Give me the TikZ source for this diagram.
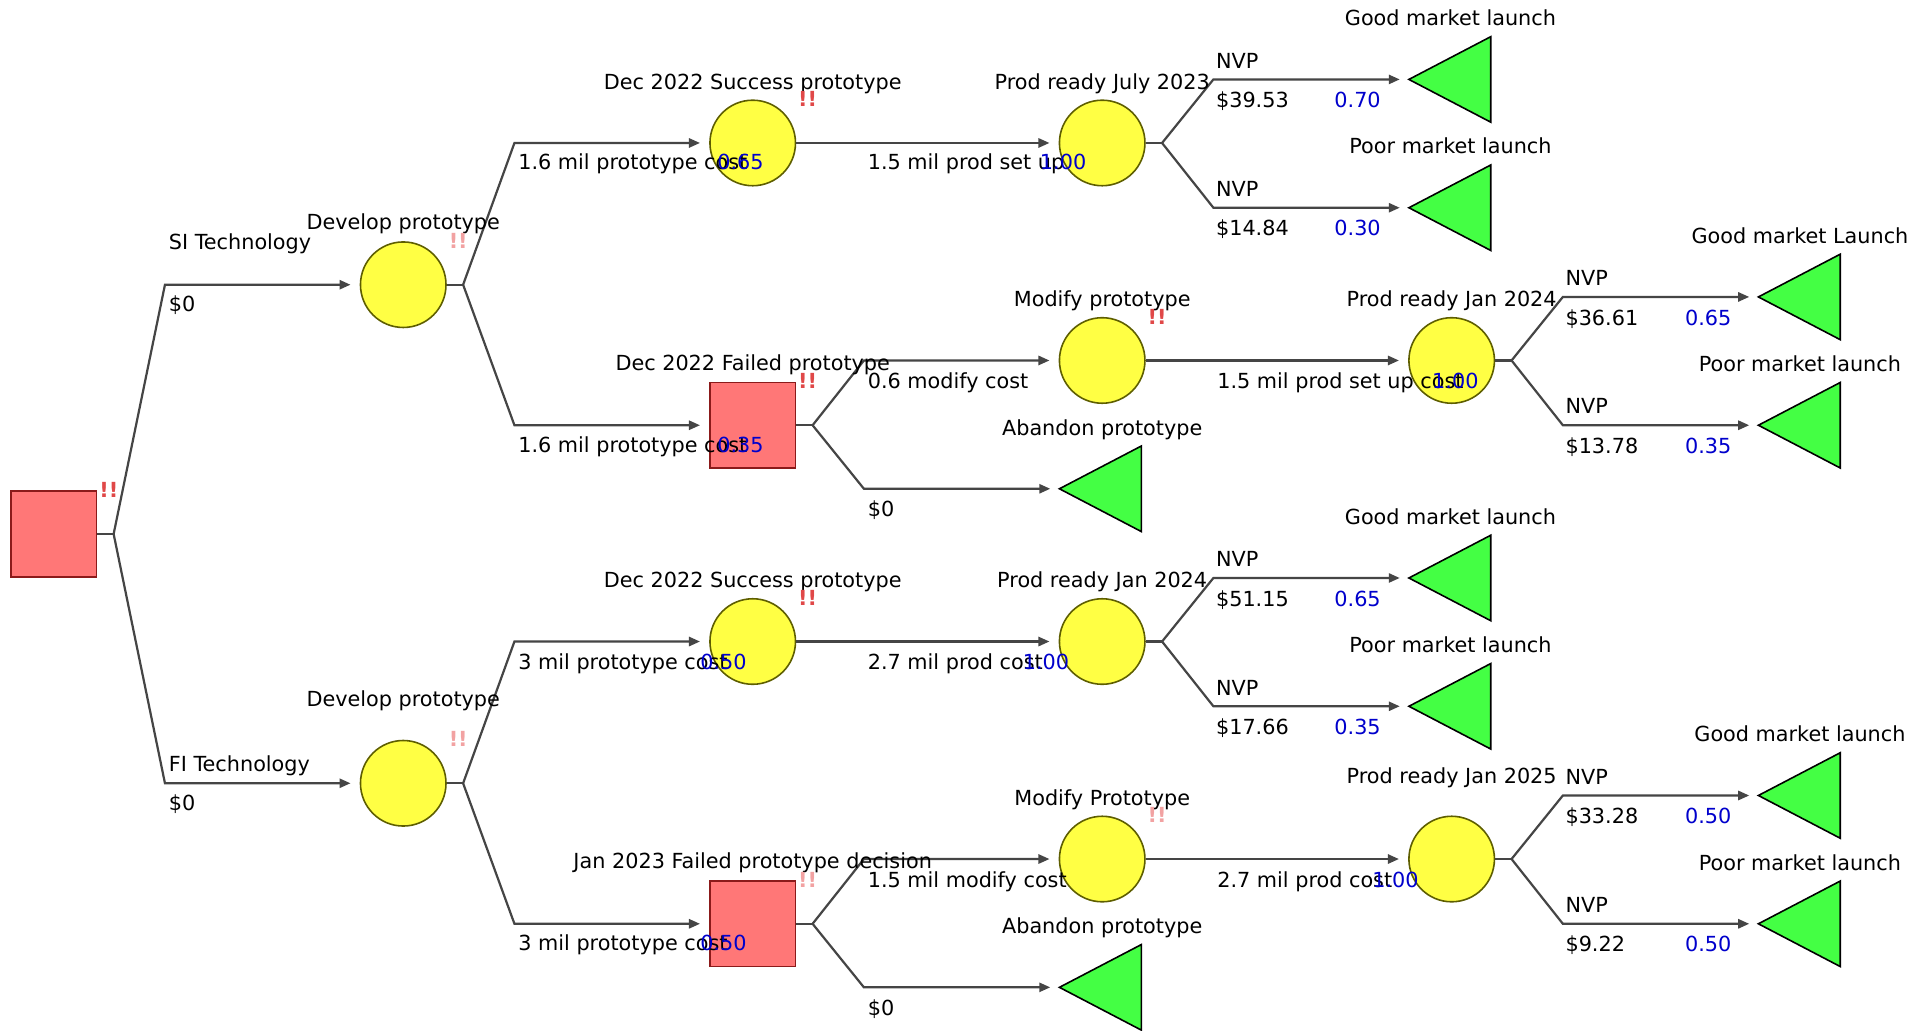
\documentclass[tikz,border=0pt]{standalone}
\usepackage{fontspec}
\setmainfont{DejaVu Sans}
\usetikzlibrary{arrows.meta}
\definecolor{decfill}{HTML}{FF7777}
\definecolor{decdraw}{HTML}{8B1A1A}
\definecolor{chfill}{HTML}{FFFF44}
\definecolor{chdraw}{HTML}{5E5E00}
\definecolor{tfill}{HTML}{44FF44}
\definecolor{lin}{HTML}{454545}
\definecolor{prob}{HTML}{0000CC}
\definecolor{bangred}{HTML}{E04848}
\definecolor{bangpink}{HTML}{F2A2A2}
\tikzset{
  decnode/.style={rectangle, fill=decfill, draw=decdraw, line width=1.3pt, minimum size=70pt, inner sep=0pt},
  chnode/.style={circle, fill=chfill, draw=chdraw, line width=1.3pt, minimum size=70pt, inner sep=0pt},
  tshape/.style={fill=tfill, draw=black, line width=1.3pt, line join=miter},
  conn/.style={draw=lin, line width=1.8pt, -{Triangle[length=9pt,width=7.5pt]}, shorten >=7.5pt},
  stub/.style={draw=lin, line width=1.8pt},
  lbl/.style={font=\fontsize{17}{20}\selectfont, inner sep=0pt, anchor=base west, yshift=-6pt},
  ttl/.style={font=\fontsize{17}{20}\selectfont, inner sep=0pt, anchor=base, yshift=-6pt},
  pr/.style={ttl, text=prob},
  bang/.style={font=\fontsize{17}{20}\selectfont\bfseries, inner sep=0pt, text=bangred},
  bangl/.style={bang, text=bangpink}
}
\newcommand\termtri[3]{%
  \coordinate (#1) at (#2,#3);
  \draw[tshape] (#1) -- ++(67,35) -- ++(0,-70) -- cycle;}
\begin{document}
\begin{tikzpicture}[x=1pt,y=-1pt]
\fill[white] (0,0) rectangle (1568,843);
\useasboundingbox (0,0) rectangle (1568,843);

% ---------- nodes ----------
\node[decnode] (root) at (44,437) {};
\node[chnode] (d1) at (330,233) {};
\node[chnode] (c1) at (616,117) {};
\node[chnode] (c2) at (902,117) {};
\termtri{t1}{1153}{65}
\termtri{t2}{1153}{170}
\node[decnode] (s1) at (616,348) {};
\node[chnode] (m1) at (902,295) {};
\node[chnode] (p1) at (1188,295) {};
\termtri{t3}{1439}{243}
\termtri{t4}{1439}{348}
\termtri{t5}{867}{400}
\node[chnode] (d2) at (330,641) {};
\node[chnode] (c3) at (616,525) {};
\node[chnode] (c4) at (902,525) {};
\termtri{t6}{1153}{473}
\termtri{t7}{1153}{578}
\node[decnode] (s2) at (616,756) {};
\node[chnode] (m2) at (902,703) {};
\node[chnode] (p2) at (1188,703) {};
\termtri{t8}{1439}{651}
\termtri{t9}{1439}{756}
\termtri{t10}{867}{808}

% ---------- fork and bend points ----------
\coordinate (f0) at (93,437);
\coordinate (b0a) at (135,233); \coordinate (b0b) at (135,641);
\coordinate (fd1) at (379,233);
\coordinate (bd1a) at (421,117); \coordinate (bd1b) at (421,348);
\coordinate (fc2) at (951,117);
\coordinate (bc2a) at (993,65); \coordinate (bc2b) at (993,170);
\coordinate (fs1) at (665,348);
\coordinate (bs1a) at (707,295); \coordinate (bs1b) at (707,400);
\coordinate (fp1) at (1237,295);
\coordinate (bp1a) at (1279,243); \coordinate (bp1b) at (1279,348);
\coordinate (fd2) at (379,641);
\coordinate (bd2a) at (421,525); \coordinate (bd2b) at (421,756);
\coordinate (fc4) at (951,525);
\coordinate (bc4a) at (993,473); \coordinate (bc4b) at (993,578);
\coordinate (fs2) at (665,756);
\coordinate (bs2a) at (707,703); \coordinate (bs2b) at (707,808);
\coordinate (fp2) at (1237,703);
\coordinate (bp2a) at (1279,651); \coordinate (bp2b) at (1279,756);

% ---------- connectors ----------
\draw[stub] (root.east) -- (f0);
\draw[conn] (f0) -- (b0a) -- (d1);
\draw[conn] (f0) -- (b0b) -- (d2);

\draw[stub] (d1.east) -- (fd1);
\draw[conn] (fd1) -- (bd1a) -- (c1);
\draw[conn] (fd1) -- (bd1b) -- (s1);
\draw[conn] (c1) -- (c2);
\draw[stub] (c2.east) -- (fc2);
\draw[conn] (fc2) -- (bc2a) -- (t1);
\draw[conn] (fc2) -- (bc2b) -- (t2);
\draw[stub] (s1.east) -- (fs1);
\draw[conn] (fs1) -- (bs1a) -- (m1);
\draw[conn] (fs1) -- (bs1b) -- (t5);
\draw[conn] (m1) -- (p1);
\draw[stub] (p1.east) -- (fp1);
\draw[conn] (fp1) -- (bp1a) -- (t3);
\draw[conn] (fp1) -- (bp1b) -- (t4);

\draw[stub] (d2.east) -- (fd2);
\draw[conn] (fd2) -- (bd2a) -- (c3);
\draw[conn] (fd2) -- (bd2b) -- (s2);
\draw[conn] (c3) -- (c4);
\draw[stub] (c4.east) -- (fc4);
\draw[conn] (fc4) -- (bc4a) -- (t6);
\draw[conn] (fc4) -- (bc4b) -- (t7);
\draw[stub] (s2.east) -- (fs2);
\draw[conn] (fs2) -- (bs2a) -- (m2);
\draw[conn] (fs2) -- (bs2b) -- (t10);
\draw[conn] (m2) -- (p2);
\draw[stub] (p2.east) -- (fp2);
\draw[conn] (fp2) -- (bp2a) -- (t8);
\draw[conn] (fp2) -- (bp2b) -- (t9);

% ---------- node titles ----------
\node[ttl] (ld1) at (330,182) {Develop prototype};
\node[ttl] (lc1) at (616,67) {Dec 2022 Success prototype};
\node[ttl] (lc2) at (902,67) {Prod ready July 2023};
\node[ttl] (lt1) at (1187,15) {Good market launch};
\node[ttl] (lt2) at (1187,120) {Poor market launch};
\node[ttl] (ls1) at (616,297) {Dec 2022 Failed prototype};
\node[ttl] (lm1) at (902,245) {Modify prototype};
\node[ttl] (lp1) at (1188,245) {Prod ready Jan 2024};
\node[ttl] (lt3) at (1473,193) {Good market Launch};
\node[ttl] (lt4) at (1473,298) {Poor market launch};
\node[ttl] (lt5) at (902,350) {Abandon prototype};
\node[ttl] (ld2) at (330,572) {Develop prototype};
\node[ttl] (lc3) at (616,475) {Dec 2022 Success prototype};
\node[ttl] (lc4) at (902,475) {Prod ready Jan 2024};
\node[ttl] (lt6) at (1187,423) {Good market launch};
\node[ttl] (lt7) at (1187,528) {Poor market launch};
\node[ttl] (ls2) at (616,705) {Jan 2023 Failed prototype decision};
\node[ttl] (lm2) at (902,653) {Modify Prototype};
\node[ttl] (lp2) at (1188,635) {Prod ready Jan 2025};
\node[ttl] (lt8) at (1473,601) {Good market launch};
\node[ttl] (lt9) at (1473,706) {Poor market launch};
\node[ttl] (lt10) at (902,758) {Abandon prototype};

% ---------- edge labels ----------
\node[lbl] (e1) at (138,198) {SI Technology};
\node[lbl] (e1v) at (138,249) {\$0};
\node[lbl] (e2) at (138,625) {FI Technology};
\node[lbl] (e2v) at (138,657) {\$0};

\node[lbl] (e3) at (424,133) {1.6 mil prototype cost};
\node[pr] (e3p) at (606,133) {0.65};
\node[lbl] (e4) at (424,364) {1.6 mil prototype cost};
\node[pr] (e4p) at (606,364) {0.35};
\node[lbl] (e5) at (710,133) {1.5 mil prod set up};
\node[pr] (e5p) at (870,133) {1.00};
\node[lbl] (e6) at (995,50) {NVP};
\node[lbl] (e6v) at (995,82) {\$39.53};
\node[pr] (e6p) at (1111,82) {0.70};
\node[lbl] (e7) at (995,155) {NVP};
\node[lbl] (e7v) at (995,187) {\$14.84};
\node[pr] (e7p) at (1111,187) {0.30};
\node[lbl] (e8) at (710,312) {0.6 modify cost};
\node[lbl] (e9) at (710,417) {\$0};
\node[lbl] (e10) at (996,312) {1.5 mil prod set up cost};
\node[pr] (e10p) at (1191,312) {1.00};
\node[lbl] (e11) at (1281,228) {NVP};
\node[lbl] (e11v) at (1281,260) {\$36.61};
\node[pr] (e11p) at (1398,260) {0.65};
\node[lbl] (e12) at (1281,332) {NVP};
\node[lbl] (e12v) at (1281,365) {\$13.78};
\node[pr] (e12p) at (1398,365) {0.35};

\node[lbl] (e13) at (424,542) {3 mil prototype cost};
\node[pr] (e13p) at (592,542) {0.50};
\node[lbl] (e14) at (424,772) {3 mil prototype cost};
\node[pr] (e14p) at (592,772) {0.50};
\node[lbl] (e15) at (710,542) {2.7 mil prod cost};
\node[pr] (e15p) at (856,542) {1.00};
\node[lbl] (e16) at (995,458) {NVP};
\node[lbl] (e16v) at (995,490) {\$51.15};
\node[pr] (e16p) at (1111,490) {0.65};
\node[lbl] (e17) at (995,563) {NVP};
\node[lbl] (e17v) at (995,595) {\$17.66};
\node[pr] (e17p) at (1111,595) {0.35};
\node[lbl] (e18) at (710,720) {1.5 mil modify cost};
\node[lbl] (e19) at (710,825) {\$0};
\node[lbl] (e20) at (996,720) {2.7 mil prod cost};
\node[pr] (e20p) at (1142,720) {1.00};
\node[lbl] (e21) at (1281,636) {NVP};
\node[lbl] (e21v) at (1281,668) {\$33.28};
\node[pr] (e21p) at (1398,668) {0.50};
\node[lbl] (e22) at (1281,741) {NVP};
\node[lbl] (e22v) at (1281,773) {\$9.22};
\node[pr] (e22p) at (1398,773) {0.50};

% ---------- !! marks ----------
\node[bang] (x0) at (89,401) {!!};
\node[bangl] (x1) at (375,197) {!!};
\node[bang] (x2) at (661,81) {!!};
\node[bang] (x3) at (661,312) {!!};
\node[bang] (x4) at (947,259) {!!};
\node[bangl] (x5) at (375,605) {!!};
\node[bang] (x6) at (661,489) {!!};
\node[bangl] (x7) at (661,720) {!!};
\node[bangl] (x8) at (947,667) {!!};
\end{tikzpicture}
\end{document}
